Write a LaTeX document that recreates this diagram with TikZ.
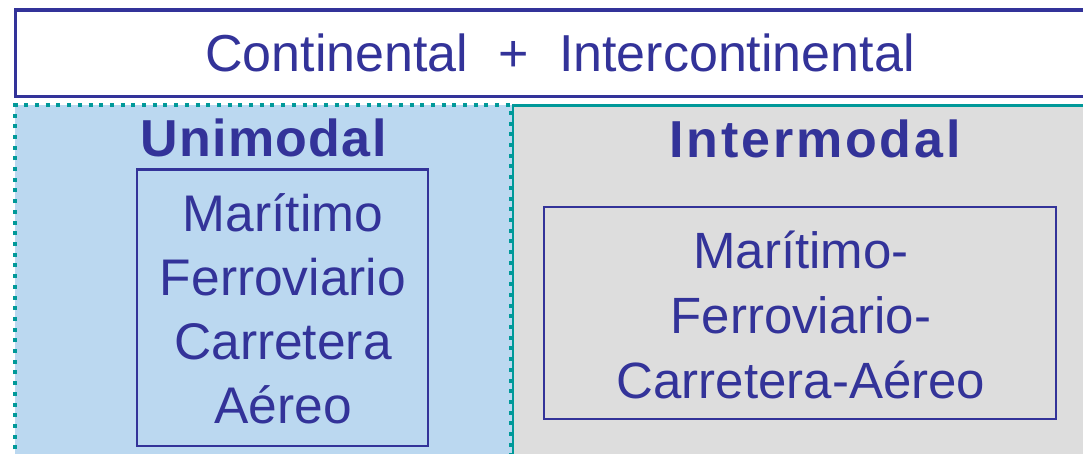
\documentclass[tikz,border=0pt]{standalone}
\usepackage{fontspec}
\setmainfont{Liberation Sans}
\definecolor{navy}{HTML}{333399}
\definecolor{seateal}{HTML}{009999}
\definecolor{skyfill}{HTML}{BBD8F0}
\definecolor{greyfill}{HTML}{DDDDDD}

\begin{document}
\begin{tikzpicture}
[x=1pt,y=-1pt,
 frame/.style={draw=navy, line width=3.3pt},
 modebox/.style={draw=navy, line width=2.3pt},
 txt/.style={draw=none, inner sep=0pt, anchor=base, text=navy, align=center, font=\fontsize{52}{64}\selectfont},
 head/.style={txt, font=\fontsize{52}{64}\selectfont\bfseries}]
\useasboundingbox (0,0) rectangle (1083,454);

% panels
\fill[skyfill] (15,105.5) rectangle (512,460);
\fill[greyfill] (512,105.3) rectangle (1095,460);
\draw[seateal, line width=4pt, dash pattern=on 4pt off 6.7pt] (15,460) -- (15,105.5) -- (511,105.5) -- (511,460);
\draw[seateal, line width=2.6pt] (1095,105.3) -- (513,105.3) -- (513,460);

% top band
\draw[frame, fill=white] (15.5,10) rectangle (1095,96.5);
\node[txt] (scope) at (560,71.7) {Continental\hspace{.58em}+\hspace{.58em}Intercontinental};

% unimodal
\node[head] (uni) at (263.5,156.7) {\addfontfeature{LetterSpace=2.5}Unimodal};
\draw[modebox] (137,169.5) rectangle (428,446.3);
\node[txt, font=\fontsize{51.5}{63.8}\selectfont] (unilist) at (283,423.3) {Marítimo\\Ferroviario\\Carretera\\Aéreo};

% intermodal
\node[head] (inter) at (815,157.3) {\addfontfeature{LetterSpace=5.5}Intermodal};
\draw[modebox] (544.3,206.7) rectangle (1056,419);
\node[txt, font=\fontsize{51}{65}\selectfont] (interlist) at (801,398.3) {Marítimo-\\Ferroviario-\\Carretera-Aéreo};

\end{tikzpicture}
\end{document}
